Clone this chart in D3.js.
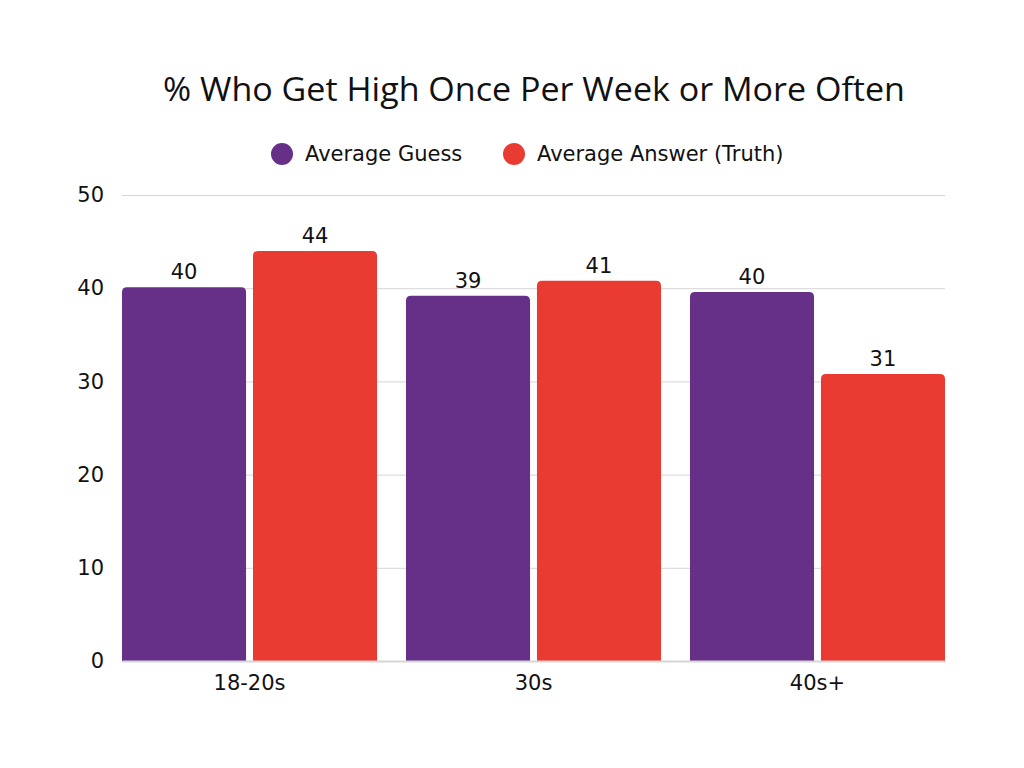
<!DOCTYPE html>
<html>
<head>
<meta charset="utf-8">
<script src="https://cdn.jsdelivr.net/npm/d3@7"></script>
<style>
  body { margin: 0; background: #fff; }
  text { font-family: "DejaVu Sans", "Noto Sans", sans-serif; fill: #111; }
  .title { font-family: "Open Sans", "Noto Sans", sans-serif; }
</style>
</head>
<body>
<svg width="1024" height="768"></svg>
<script>
const svg = d3.select('svg');

const width = +svg.attr('width');
const height = +svg.attr('height');

// data
const groups = ['18-20s', '30s', '40s+'];
const seriesNames = ['Average Guess', 'Average Answer (Truth)'];
const guessValues = [40.1, 39.2, 39.6];
const truthValues = [44.0, 40.8, 30.8];
const yTicks = [0, 10, 20, 30, 40, 50];
const colors = ['#662f88', '#e93b31'];

const data = groups.map((g, i) => ({
  group: g,
  values: [
    {key: seriesNames[0], value: guessValues[i]},
    {key: seriesNames[1], value: truthValues[i]}
  ]
}));

const margin = { top: 195, right: 79, bottom: 107, left: 122 };
const innerWidth = width - margin.left - margin.right;
const innerHeight = height - margin.top - margin.bottom;

const xScale = d3.scaleBand()
  .domain(groups)
  .range([0, innerWidth])
  .paddingInner(0.102)
  .paddingOuter(0);

const xInner = d3.scaleBand()
  .domain(seriesNames)
  .range([0, xScale.bandwidth()])
  .paddingInner(0.053);

const yScale = d3.scaleLinear()
  .domain([0, 50])
  .range([innerHeight, 0]);

const color = d3.scaleOrdinal().domain(seriesNames).range(colors);

// title
svg.append('text')
  .attr('class', 'title')
  .attr('x', 534)
  .attr('y', 101)
  .attr('text-anchor', 'middle')
  .attr('textLength', 742)
  .attr('lengthAdjust', 'spacingAndGlyphs')
  .style('font-size', '32px')
  .text('% Who Get High Once Per Week or More Often');

// legend
const legendX = [282, 514];
const legend = svg.append('g').selectAll('g').data(seriesNames)
  .enter().append('g')
    .attr('transform', (d, i) => `translate(${legendX[i]},154)`);
legend.append('circle')
  .attr('r', 11)
  .attr('fill', d => color(d));
legend.append('text')
  .attr('x', 23)
  .attr('dy', '0.35em')
  .style('font-size', '21px')
  .text(d => d);

const g = svg.append('g')
  .attr('transform', `translate(${margin.left},${margin.top})`);

// gridlines + y labels
const yAxis = d3.axisLeft(yScale)
  .tickValues(yTicks)
  .tickSize(-innerWidth)
  .tickPadding(18);

g.append('g').call(yAxis)
  .call(a => a.select('.domain').remove())
  .call(a => a.selectAll('line').attr('stroke', '#d6d6d6').attr('stroke-width', 1))
  .call(a => a.selectAll('text').style('font-size', '21px').attr('fill', '#111'));

// bars with rounded tops
const r = 5;
const roundTop = (x, y, w, h) => {
  const rr = Math.min(r, h);
  return `M${x},${y + h}V${y + rr}Q${x},${y} ${x + rr},${y}H${x + w - rr}Q${x + w},${y} ${x + w},${y + rr}V${y + h}Z`;
};

const groupG = g.selectAll('.grp').data(data)
  .enter().append('g')
    .attr('class', 'grp')
    .attr('transform', d => `translate(${xScale(d.group)},0)`);

groupG.selectAll('path').data(d => d.values)
  .enter().append('path')
    .attr('fill', d => color(d.key))
    .attr('d', d => roundTop(xInner(d.key), yScale(d.value), xInner.bandwidth(), innerHeight - yScale(d.value)));

groupG.selectAll('.lbl').data(d => d.values)
  .enter().append('text')
    .attr('class', 'lbl')
    .attr('x', d => xInner(d.key) + xInner.bandwidth() / 2)
    .attr('y', d => yScale(d.value) - 8)
    .attr('text-anchor', 'middle')
    .style('font-size', '21px')
    .text(d => d3.format('.0f')(d.value));

// baseline + x labels
const xAxis = d3.axisBottom(xScale).tickSize(0).tickPadding(14);
g.append('g')
  .attr('transform', `translate(0,${innerHeight})`)
  .call(xAxis)
  .call(a => a.select('.domain').attr('stroke', '#d6d6d6').attr('stroke-width', 2))
  .call(a => a.selectAll('text').style('font-size', '21px').attr('fill', '#111'));
</script>
</body>
</html>
